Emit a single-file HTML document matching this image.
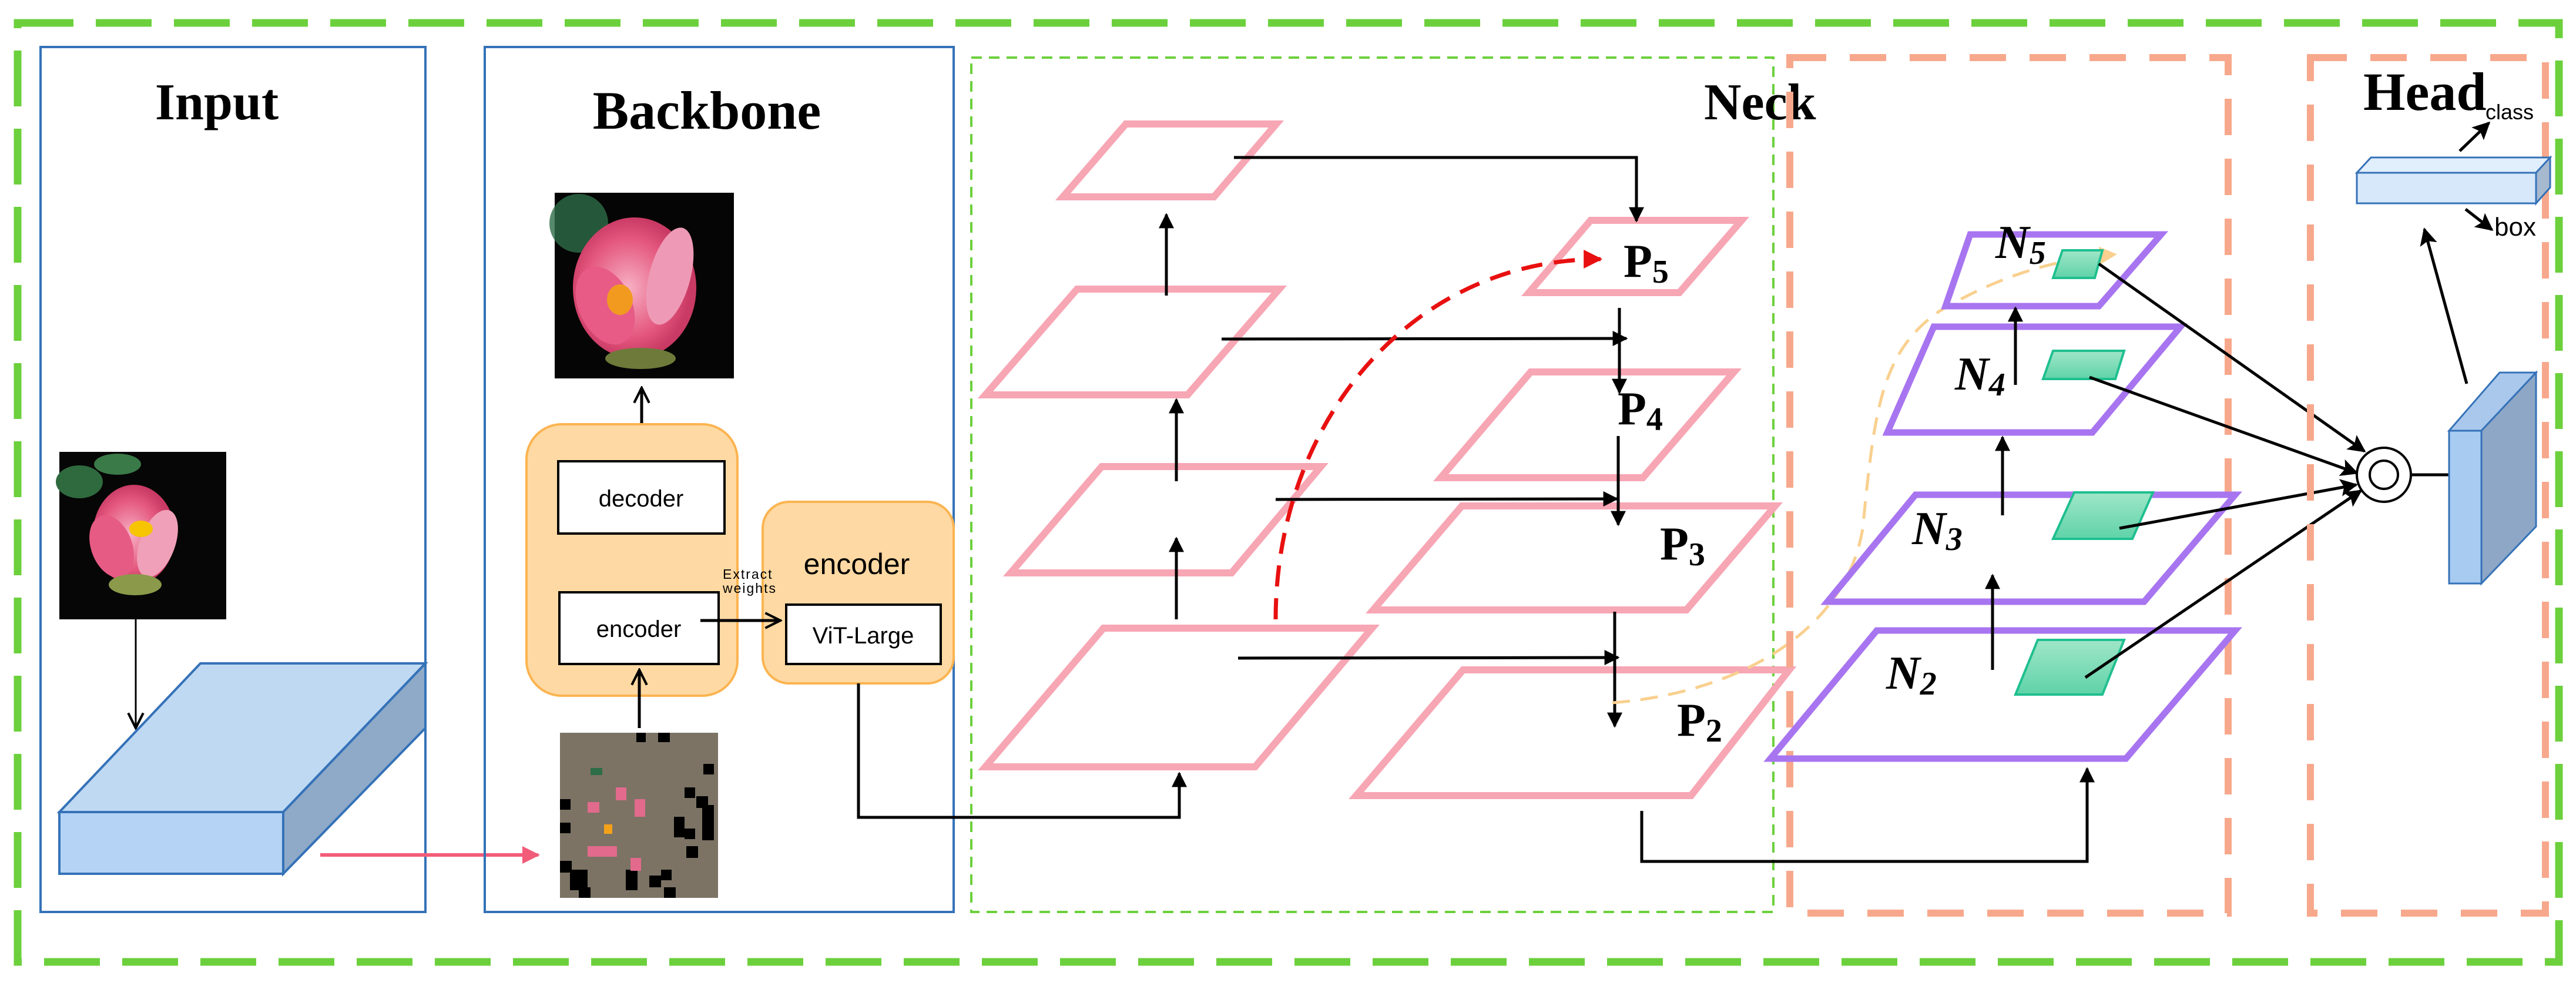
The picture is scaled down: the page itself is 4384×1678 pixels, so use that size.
<!DOCTYPE html>
<html><head><meta charset="utf-8"><style>
html,body{margin:0;padding:0;background:#fff}
svg{display:block}
.t{font-family:"Liberation Serif",serif;font-weight:bold;fill:#000}
.a{font-family:"Liberation Sans",sans-serif;fill:#000}
</style></head><body>
<svg width="4384" height="1678" viewBox="0 0 4384 1678" xmlns="http://www.w3.org/2000/svg">
<defs>
<marker id="ah" markerWidth="26" markerHeight="26" refX="9" refY="5" orient="auto" markerUnits="userSpaceOnUse" viewBox="0 0 10 10"><path d="M0,0 L10,5 L0,10 Z" fill="#000"/></marker>
<marker id="ab" viewBox="0 0 10 10" refX="9" refY="5" markerWidth="30" markerHeight="30" orient="auto" markerUnits="userSpaceOnUse"><path d="M0,0 L10,5 L0,10 L2,5 Z" fill="#000"/></marker>
<marker id="ao" viewBox="0 0 10 10" refX="9" refY="5" markerWidth="32" markerHeight="32" orient="auto" markerUnits="userSpaceOnUse"><path d="M1,1 L9,5 L1,9" fill="none" stroke="#000" stroke-width="1.3"/></marker>
<marker id="ar" viewBox="0 0 10 10" refX="9" refY="5" markerWidth="30" markerHeight="30" orient="auto" markerUnits="userSpaceOnUse"><path d="M0,0 L10,5 L0,10 Z" fill="#f25c78"/></marker>
<marker id="ared" viewBox="0 0 10 10" refX="9" refY="5" markerWidth="32" markerHeight="32" orient="auto" markerUnits="userSpaceOnUse"><path d="M0,0 L10,5 L0,10 Z" fill="#e81010"/></marker>
<marker id="ay" viewBox="0 0 10 10" refX="9" refY="5" markerWidth="30" markerHeight="30" orient="auto" markerUnits="userSpaceOnUse"><path d="M0,0 L10,5 L0,10 Z" fill="#f9d08f"/></marker>
<linearGradient id="gg" x1="0" y1="0" x2="0" y2="1"><stop offset="0" stop-color="#9fe6c8"/><stop offset="1" stop-color="#5fd3a8"/></linearGradient>
<radialGradient id="fl" cx="0.45" cy="0.5" r="0.5"><stop offset="0" stop-color="#f7b0c4"/><stop offset="0.7" stop-color="#e4577e"/><stop offset="1" stop-color="#c93a64"/></radialGradient>
</defs>

<rect x="30" y="39" width="4325" height="1598" fill="none" stroke="#6cd03c" stroke-width="13" stroke-dasharray="95 38"/>

<rect x="69" y="80" width="655" height="1472" fill="none" stroke="#3572b8" stroke-width="4"/>
<text class="t" x="369" y="203" font-size="88" text-anchor="middle">Input</text>
<rect x="101" y="769" width="284" height="285" fill="#060606"/>
<ellipse cx="135" cy="820" rx="40" ry="28" fill="#2f6a3e"/>
<ellipse cx="200" cy="790" rx="40" ry="18" fill="#3a7a48"/>
<ellipse cx="228" cy="910" rx="70" ry="85" fill="url(#fl)"/>
<ellipse cx="190" cy="930" rx="35" ry="55" fill="#e65b84" transform="rotate(-20 190 930)"/>
<ellipse cx="268" cy="925" rx="30" ry="60" fill="#f0a0b8" transform="rotate(20 268 925)"/>
<ellipse cx="240" cy="900" rx="20" ry="14" fill="#f7c500"/>
<ellipse cx="230" cy="995" rx="45" ry="18" fill="#8a9a4a"/>
<line x1="231" y1="1054" x2="231" y2="1239" stroke="#000" stroke-width="3" marker-end="url(#ao)"/>
<polygon points="101,1382 341,1129 724,1129 482,1382" fill="#bfd9f3" stroke="#3572b8" stroke-width="4"/>
<polygon points="482,1382 724,1129 724,1239 482,1487" fill="#8eaac8" stroke="#3572b8" stroke-width="4"/>
<rect x="101" y="1382" width="381" height="105" fill="#b4d3f5" stroke="#3572b8" stroke-width="4"/>
<line x1="545" y1="1455" x2="916" y2="1455" stroke="#f25c78" stroke-width="6" marker-end="url(#ar)"/>

<rect x="825" y="80" width="798" height="1472" fill="none" stroke="#3572b8" stroke-width="4"/>
<text class="t" x="1203" y="219" font-size="92" text-anchor="middle">Backbone</text>
<rect x="944" y="328" width="305" height="316" fill="#050505"/>
<ellipse cx="985" cy="380" rx="50" ry="50" fill="#2d6d47" opacity="0.8"/>
<ellipse cx="1080" cy="490" rx="105" ry="120" fill="url(#fl)"/>
<ellipse cx="1030" cy="520" rx="45" ry="70" fill="#e75b86" transform="rotate(-25 1030 520)"/>
<ellipse cx="1140" cy="470" rx="35" ry="85" fill="#ee9ab6" transform="rotate(15 1140 470)"/>
<ellipse cx="1055" cy="510" rx="22" ry="26" fill="#f29a20"/>
<ellipse cx="1090" cy="610" rx="60" ry="18" fill="#6d7a3a"/>
<line x1="1092" y1="784" x2="1092" y2="660" stroke="#000" stroke-width="5" marker-end="url(#ao)"/>
<rect x="896" y="722" width="359" height="462" rx="60" fill="#ffd9a3" stroke="#fbb450" stroke-width="4"/>
<rect x="950" y="785" width="283" height="123" fill="#fff" stroke="#000" stroke-width="4"/>
<text class="a" x="1091" y="862" font-size="40" text-anchor="middle">decoder</text>
<rect x="952" y="1008" width="271" height="122" fill="#fff" stroke="#000" stroke-width="4"/>
<text class="a" x="1087" y="1084" font-size="40" text-anchor="middle">encoder</text>
<line x1="1088" y1="1239" x2="1088" y2="1140" stroke="#000" stroke-width="5" marker-end="url(#ao)"/>
<rect x="953" y="1247" width="269" height="281" fill="#7c7365"/>
<g fill="#000">
<rect x="1083" y="1247" width="16" height="16"/><rect x="1120" y="1247" width="20" height="16"/>
<rect x="1197" y="1300" width="18" height="18"/><rect x="1165" y="1340" width="18" height="18"/>
<rect x="1185" y="1355" width="20" height="20"/><rect x="1195" y="1370" width="20" height="60"/>
<rect x="953" y="1360" width="18" height="18"/><rect x="953" y="1400" width="18" height="18"/>
<rect x="1147" y="1390" width="18" height="35"/><rect x="1165" y="1410" width="18" height="18"/>
<rect x="1168" y="1440" width="20" height="20"/><rect x="953" y="1465" width="20" height="20"/>
<rect x="970" y="1480" width="30" height="35"/><rect x="985" y="1510" width="20" height="18"/>
<rect x="1065" y="1480" width="20" height="35"/><rect x="1105" y="1490" width="20" height="20"/>
<rect x="1125" y="1480" width="18" height="18"/><rect x="1130" y="1510" width="20" height="18"/>
</g>
<g fill="#e26a8c"><rect x="1048" y="1340" width="18" height="22"/><rect x="1080" y="1360" width="18" height="30"/>
<rect x="1000" y="1365" width="20" height="18"/><rect x="1000" y="1440" width="50" height="18"/><rect x="1073" y="1460" width="18" height="22"/></g>
<rect x="1028" y="1403" width="14" height="16" fill="#f5a21a"/>
<rect x="1005" y="1307" width="20" height="12" fill="#2d6d47"/>
<rect x="1298" y="854" width="325" height="309" rx="45" fill="#ffd9a3" stroke="#fbb450" stroke-width="4"/>
<text class="a" x="1458" y="977" font-size="50" text-anchor="middle">encoder</text>
<rect x="1338" y="1029" width="263" height="101" fill="#fff" stroke="#000" stroke-width="4"/>
<text class="a" x="1469" y="1095" font-size="40" text-anchor="middle">ViT-Large</text>
<line x1="1192" y1="1056" x2="1328" y2="1056" stroke="#000" stroke-width="5" marker-end="url(#ao)"/>
<text class="a" x="1230" y="985" font-size="23" letter-spacing="2">Extract</text>
<text class="a" x="1230" y="1009" font-size="23" letter-spacing="2">weights</text>
<polyline points="1461,1163 1461,1391 2007,1391 2007,1316" fill="none" stroke="#000" stroke-width="5" marker-end="url(#ah)"/>

<rect x="1653" y="98" width="1365" height="1454" fill="none" stroke="#6cd03c" stroke-width="4" stroke-dasharray="18 12"/>
<text class="t" x="2900" y="203" font-size="88">Neck</text>
<g fill="none" stroke="#f7a6b4" stroke-width="12">
<polygon points="1916,211 2172,211 2066,335 1809,335"/>
<polygon points="1833,492 2177,492 2021,672 1677,672"/>
<polygon points="1875,794 2248,794 2096,975 1720,975"/>
<polygon points="1878,1069 2335,1069 2136,1305 1677,1305"/>
<polygon points="2707,375 2964,375 2858,498 2602,498"/>
<polygon points="2605,633 2951,633 2796,813 2452,813"/>
<polygon points="2488,861 3021,861 2870,1038 2337,1038"/>
<polygon points="2490,1140 3045,1140 2878,1354 2308,1354"/>
</g>
<g stroke="#000" stroke-width="5" fill="none">
<line x1="1985" y1="503" x2="1985" y2="365" marker-end="url(#ah)"/>
<line x1="2002" y1="819" x2="2002" y2="680" marker-end="url(#ah)"/>
<line x1="2002" y1="1054" x2="2002" y2="916" marker-end="url(#ah)"/>
<polyline points="2100,268 2785,268 2785,376" marker-end="url(#ah)"/>
<line x1="2079" y1="577" x2="2768" y2="576" marker-end="url(#ah)"/>
<line x1="2171" y1="850" x2="2752" y2="849" marker-end="url(#ah)"/>
<line x1="2107" y1="1120" x2="2754" y2="1119" marker-end="url(#ah)"/>
<line x1="2756" y1="524" x2="2756" y2="668" marker-end="url(#ah)"/>
<line x1="2754" y1="742" x2="2754" y2="893" marker-end="url(#ah)"/>
<line x1="2748" y1="1041" x2="2748" y2="1236" marker-end="url(#ah)"/>
<polyline points="2794,1380 2794,1466 3552,1466 3552,1308" marker-end="url(#ah)"/>
</g>
<text class="t" x="2763" y="471" font-size="80">P<tspan font-size="56" dy="10">5</tspan></text>
<text class="t" x="2753" y="722" font-size="80">P<tspan font-size="56" dy="10">4</tspan></text>
<text class="t" x="2825" y="952" font-size="80">P<tspan font-size="56" dy="10">3</tspan></text>
<text class="t" x="2854" y="1252" font-size="80">P<tspan font-size="56" dy="10">2</tspan></text>
<path d="M2171,1054 C2171,720 2400,441 2724,441" fill="none" stroke="#e81010" stroke-width="7" stroke-dasharray="36 20" marker-end="url(#ared)"/>
<path d="M2744,1196 C2950,1180 3140,1080 3170,900 C3190,700 3200,600 3300,530 C3400,470 3500,440 3600,433" fill="none" stroke="#f9d08f" stroke-width="5" stroke-dasharray="30 18" marker-end="url(#ay)"/>

<rect x="3046" y="98" width="746" height="1456" fill="none" stroke="#f7a88c" stroke-width="12" stroke-dasharray="62 40"/>
<g fill="none" stroke="#a875f0" stroke-width="11">
<polygon points="3353,399 3678,399 3572,521 3311,521"/>
<polygon points="3291,556 3711,556 3561,736 3212,736"/>
<polygon points="3260,842 3804,842 3649,1024 3110,1024"/>
<polygon points="3194,1073 3804,1073 3618,1291 3013,1291"/>
</g>
<g fill="url(#gg)" stroke="#1fbf8f" stroke-width="4">
<polygon points="3510,426 3578,426 3565,473 3494,473"/>
<polygon points="3494,597 3615,597 3600,645 3477,645"/>
<polygon points="3530,838 3664,838 3629,917 3494,917"/>
<polygon points="3468,1089 3615,1089 3578,1182 3430,1182"/>
</g>
<g class="t" font-style="italic" font-size="80">
<text x="3396" y="439">N<tspan font-size="56" dy="10">5</tspan></text>
<text x="3327" y="663">N<tspan font-size="56" dy="10">4</tspan></text>
<text x="3254" y="926">N<tspan font-size="56" dy="10">3</tspan></text>
<text x="3210" y="1172">N<tspan font-size="56" dy="10">2</tspan></text>
</g>
<g stroke="#000" stroke-width="5" fill="none">
<line x1="3430" y1="655" x2="3430" y2="524" marker-end="url(#ah)"/>
<line x1="3408" y1="877" x2="3408" y2="744" marker-end="url(#ah)"/>
<line x1="3391" y1="1140" x2="3391" y2="979" marker-end="url(#ah)"/>
<line x1="3572" y1="449" x2="4024" y2="768" marker-end="url(#ab)"/>
<line x1="3556" y1="642" x2="4011" y2="805" marker-end="url(#ab)"/>
<line x1="3607" y1="899" x2="4010" y2="825" marker-end="url(#ab)"/>
<line x1="3549" y1="1153" x2="4018" y2="835" marker-end="url(#ab)"/>
<line x1="4105" y1="808" x2="4205" y2="808" marker-end="url(#ab)"/>
</g>
<circle cx="4057" cy="808" r="46" fill="#fff" stroke="#000" stroke-width="4"/>
<circle cx="4057" cy="808" r="24" fill="#fff" stroke="#000" stroke-width="4"/>

<rect x="3932" y="98" width="400" height="1456" fill="none" stroke="#f7a88c" stroke-width="12" stroke-dasharray="62 40"/>
<text class="t" x="4022" y="187" font-size="92">Head</text>
<text class="a" x="4230" y="203" font-size="36">class</text>
<text class="a" x="4245" y="401" font-size="44">box</text>
<polygon points="4011,294 4035,268 4340,268 4316,294" fill="#e1eefb" stroke="#3572b8" stroke-width="3"/>
<polygon points="4316,294 4340,268 4340,319 4316,346" fill="#a7b9cf" stroke="#3572b8" stroke-width="3"/>
<rect x="4011" y="294" width="305" height="52" fill="#d7e8fa" stroke="#3572b8" stroke-width="3"/>
<line x1="4186" y1="257" x2="4236" y2="209" stroke="#000" stroke-width="5" marker-end="url(#ab)"/>
<line x1="4196" y1="356" x2="4241" y2="391" stroke="#000" stroke-width="5" marker-end="url(#ab)"/>
<polygon points="4168,733 4254,634 4316,634 4223,733" fill="#a9c8ec" stroke="#3572b8" stroke-width="3"/>
<polygon points="4223,733 4316,634 4316,896 4223,993" fill="#8ea7c6" stroke="#3572b8" stroke-width="3"/>
<rect x="4168" y="733" width="55" height="260" fill="#a8cbf2" stroke="#3572b8" stroke-width="3"/>
<line x1="4198" y1="653" x2="4126" y2="390" stroke="#000" stroke-width="5" marker-end="url(#ab)"/>
</svg>
</body></html>
